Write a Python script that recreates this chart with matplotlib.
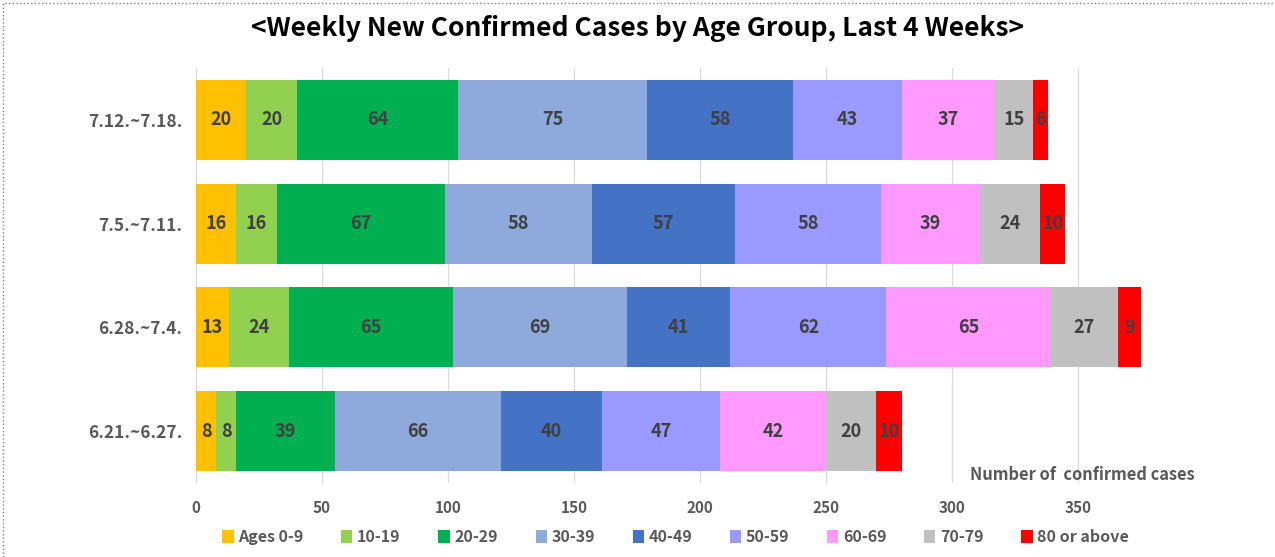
import matplotlib.pyplot as plt
from matplotlib.patches import Rectangle

weeks = ["6.21.~6.27.", "6.28.~7.4.", "7.5.~7.11.", "7.12.~7.18."]
age_groups = ["Ages 0-9", "10-19", "20-29", "30-39", "40-49",
              "50-59", "60-69", "70-79", "80 or above"]
cases = [
    [8, 13, 16, 20],    # 0-9
    [8, 24, 16, 20],    # 10-19
    [39, 65, 67, 64],   # 20-29
    [66, 69, 58, 75],   # 30-39
    [40, 41, 57, 58],   # 40-49
    [47, 62, 58, 43],   # 50-59
    [42, 65, 39, 37],   # 60-69
    [20, 27, 24, 15],   # 70-79
    [10, 9, 10, 6],     # 80+
]
colors = ["#FFC000", "#92D050", "#00B050", "#8EA9DB", "#4472C4",
          "#9999FF", "#FF99FF", "#C0C0C0", "#FF0000"]
xticks = [0, 50, 100, 150, 200, 250, 300, 350]

plt.rcParams["font.family"] = ["Noto Sans CJK KR", "DejaVu Sans"]

fig = plt.figure(figsize=(12.75, 5.57), dpi=100)
ax = fig.add_axes([196 / 1275, 1 - 483 / 557, 1008 / 1275, 415 / 557])

left = [0] * len(weeks)
for grp, vals, col in zip(age_groups, cases, colors):
    bars = ax.barh(range(len(weeks)), vals, left=left, height=0.77,
                   color=col, label=grp, zorder=2)
    ax.bar_label(bars, labels=[str(v) for v in vals], label_type="center",
                 fontsize=13, fontweight="bold", color="#404040")
    left = [a + b for a, b in zip(left, vals)]

ax.set_xlim(0, 400)
ax.set_ylim(-0.5, 3.5)
ax.set_xticks(xticks)
ax.set_yticks(range(len(weeks)))
ax.set_yticklabels(weeks, fontsize=12.5, fontweight="bold", color="#595959")
ax.tick_params(axis="x", labelsize=11, labelcolor="#595959", length=0, pad=12)
ax.tick_params(axis="y", length=0, pad=10)
for lbl in ax.get_xticklabels():
    lbl.set_fontweight("bold")
ax.grid(axis="x", color="#D9D9D9", linewidth=0.8, zorder=0)
for s in ax.spines.values():
    s.set_visible(False)

ax.text(307, -0.42, "Number of  confirmed cases", fontsize=11.8,
        fontweight="bold", color="#595959", ha="left", va="center")

fig.suptitle("<Weekly New Confirmed Cases by Age Group, Last 4 Weeks>",
             y=1 - 28 / 557, va="center", fontsize=19, fontweight="bold")

leg = fig.legend(loc="center", bbox_to_anchor=(0.53, 1 - 537 / 557), ncol=9,
                 frameon=False, fontsize=11.5, handlelength=0.7,
                 handleheight=0.9, handletextpad=0.3, columnspacing=2.35)
for t in leg.get_texts():
    t.set_color("#595959")
    t.set_fontweight("bold")

fig.patches.append(Rectangle((3 / 1275, -0.1), 1.2, 1 - 3 / 557 + 0.1,
                             transform=fig.transFigure, fill=False,
                             edgecolor="#808080", linestyle=":",
                             linewidth=1.0))

fig.savefig("out.png", dpi=100)
